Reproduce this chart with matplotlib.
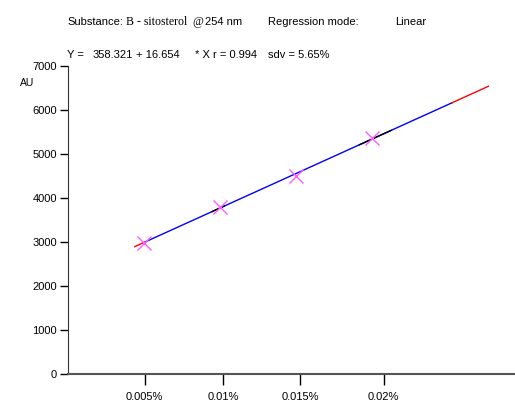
import numpy as np
import matplotlib.pyplot as plt

plt.rcParams['font.family'] = ['Liberation Sans', 'DejaVu Sans']

# calibration points (amount in %, response in AU)
conc = [0.005, 0.01, 0.015, 0.02]
area = [2985, 3800, 4505, 5357]

# x tick positions/labels as printed on the report
xtick_pos = [0.00505, 0.0102, 0.0153, 0.0208]
xtick_labels = ['0.005%', '0.01%', '0.015%', '0.02%']
yticks = [0, 1000, 2000, 3000, 4000, 5000, 6000, 7000]

# regression line segments: (start, end, colour)
line_start, line_end = 0.0044, 0.0277
blue_end = 0.0253
black_parts = [(0.0095, 0.0103), (0.0192, 0.0213)]

slope, intercept = np.polyfit(conc, area, 1)

def fit(x):
    return intercept + slope * np.asarray(x)

fig = plt.figure(figsize=(5.15, 4.03), dpi=100)
ax = fig.add_axes([68 / 515, 1 - 374 / 403, 1 - 68 / 515, (374 - 66) / 403])

segs = [(line_start, conc[0], 'red'), (conc[0], blue_end, 'blue'), (blue_end, line_end, 'red')]
for a, b, c in segs:
    xs = np.array([a, b])
    ax.plot(xs, fit(xs), color=c, lw=1, zorder=2)
for a, b in black_parts:
    xs = np.array([a, b])
    ax.plot(xs, fit(xs), color='black', lw=1, zorder=3)

ax.plot(conc, area, 'x', color='#ff5cff', ms=10, mew=1, zorder=4)

ax.set_xlim(0, 0.02945)
ax.set_ylim(0, 7000)
ax.set_xticks(xtick_pos)
ax.set_xticklabels(xtick_labels)
ax.set_yticks(yticks)
ax.tick_params(axis='x', length=8, width=1, pad=5, labelsize=8)
ax.tick_params(axis='y', length=6, width=1, pad=2, labelsize=8)
for s in ['top', 'right']:
    ax.spines[s].set_visible(False)
ax.spines['left'].set_color('#333333')
ax.spines['bottom'].set_color('#555555')
ax.spines['bottom'].set_linewidth(1.5)


def label(x, y, s, **kw):
    kw.setdefault('fontsize', 8)
    fig.text(x / 515, 1 - y / 403, s, va='center', **kw)


label(20, 83, 'AU', fontsize=7.5)
label(67, 22, 'Substance:')
label(126, 22, 'B - sitosterol', fontsize=8.5, family='Liberation Serif')
label(192, 22, '@', fontsize=8.5, family='Liberation Serif')
label(205, 22, '254 nm')
label(268, 22, 'Regression mode:')
label(395, 22, 'Linear')
label(67, 55, 'Y =')
label(93, 55, '358.321')
label(136, 55, '+ 16.654')
label(195, 55, '* X')
label(213, 55, 'r = 0.994')
label(268, 55, 'sdv = 5.65%')

fig.savefig('out.png', dpi=100)
